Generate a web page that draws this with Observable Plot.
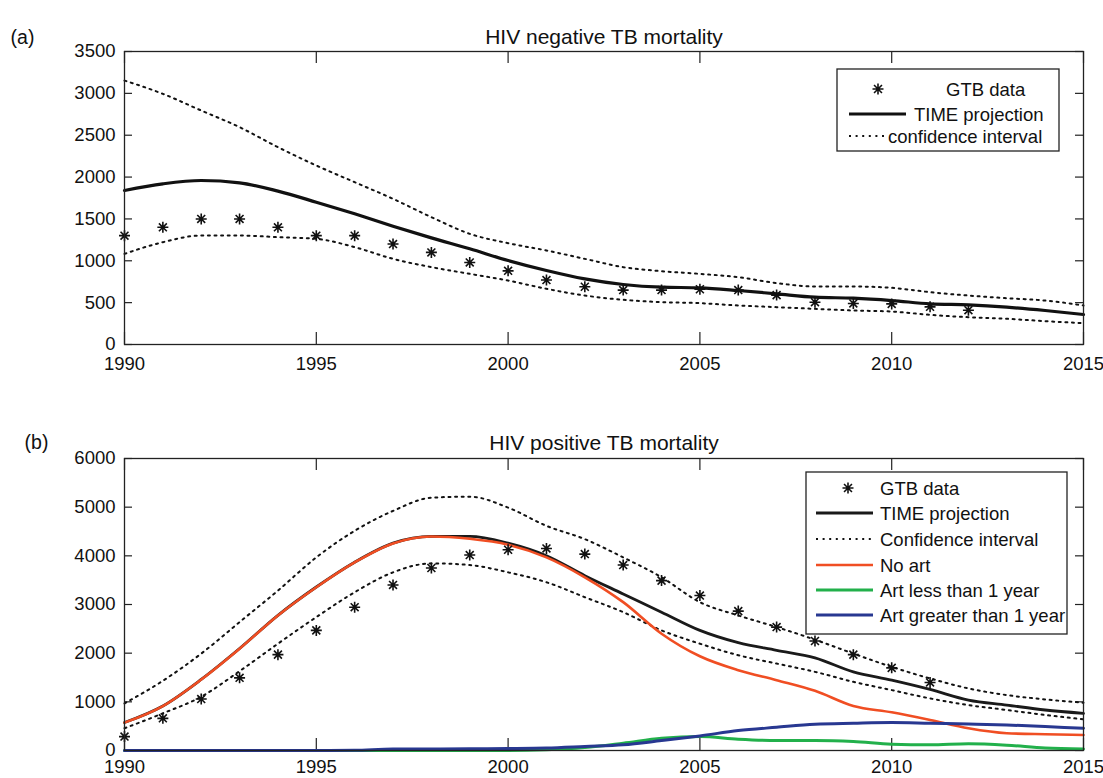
<!DOCTYPE html>
<html><head><meta charset="utf-8">
<script src="https://cdn.jsdelivr.net/npm/d3@7"></script>
<script src="https://cdn.jsdelivr.net/npm/@observablehq/plot@0.6"></script>
<style>
body{margin:0;background:#fff;font-family:"Liberation Sans",Arial,Helvetica,sans-serif;}
#wrap{position:relative;width:1103px;height:778px;}
#wrap > svg, #wrap > div{position:absolute;left:0;}
</style></head>
<body><div id="wrap"></div>
<script>
// ---------- data ----------
const years = d3.range(1990, 2016);
const xTicks = [1990, 1995, 2000, 2005, 2010, 2015];
const yTicksA = [0, 500, 1000, 1500, 2000, 2500, 3000, 3500];
const yTicksB = [0, 1000, 2000, 3000, 4000, 5000, 6000];

// (a) HIV negative
const negGTBYears = d3.range(1990, 2013);
const negGTB   = [1300,1400,1500,1500,1400,1300,1300,1200,1100,980,880,770,690,650,650,660,650,590,505,490,485,450,410];
const negTime  = [1840,1919,1959,1931,1832,1700,1561,1413,1274,1143,1003,884,784,717,685,677,645,605,565,553,525,486,473,446,406,358];
const negUpper = [3153,2994,2795,2596,2357,2138,1939,1740,1521,1322,1210,1123,1023,924,876,844,804,733,693,693,677,625,585,553,525,466];
const negLower = [1083,1222,1302,1302,1282,1262,1163,1023,924,844,764,665,585,534,506,494,466,446,426,406,394,354,326,307,279,255];

// (b) HIV positive
const posGTBYears = d3.range(1990, 2012);
const posGTB    = [286,661,1057,1493,1970,2468,2945,3402,3750,4016,4125,4152,4036,3811,3491,3184,2864,2536,2250,1970,1698,1398];
const posTime   = [575,915,1460,2095,2778,3360,3870,4262,4400,4400,4260,4002,3593,3218,2843,2468,2216,2059,1902,1616,1445,1254,1036,934,832,764];
const posUpper  = [968,1432,1991,2639,3286,3968,4514,4923,5195,5216,4991,4616,4343,3968,3559,3048,2775,2536,2277,1991,1718,1480,1275,1139,1050,982];
const posLower  = [457,764,1105,1630,2195,2741,3252,3661,3845,3811,3661,3457,3150,2843,2468,2195,1957,1786,1616,1411,1241,1070,934,832,730,641];
const posNoArt  = [573,914,1459,2093,2775,3355,3866,4255,4398,4350,4230,3968,3559,3048,2400,1936,1650,1445,1227,914,784,627,457,355,334,320];
const posArtLt1 = [0,0,0,0,0,0,0,0,0,0,0,15,61,150,250,286,232,205,205,184,130,116,140,110,50,30];
const posArtGt1 = [0,0,0,0,0,0,5,30,30,35,40,50,82,116,205,300,409,477,539,559,573,559,545,525,491,457];

// ---------- styles ----------
const FONT = '"Liberation Sans", Arial, Helvetica, sans-serif';
const INK = "#111";
const RED = "#f04e23", GREEN = "#22b04b", BLUE = "#283891";
const DOT = "2,4.6";
const TICKFS = 18.5, TITLEFS = 21;

const star8 = {
  draw(ctx, size) {
    const r = Math.sqrt(size / Math.PI), d = r * 0.72;
    ctx.moveTo(-r, 0); ctx.lineTo(r, 0);
    ctx.moveTo(0, -r); ctx.lineTo(0, r);
    ctx.moveTo(-d, -d); ctx.lineTo(d, d);
    ctx.moveTo(-d, d); ctx.lineTo(d, -d);
  }
};

const tblA = years.map((yr, i) => ({year: yr, time: negTime[i], up: negUpper[i], lo: negLower[i]}));
const gtbA = negGTBYears.map((yr, i) => ({year: yr, v: negGTB[i]}));
const tblB = years.map((yr, i) => ({year: yr, time: posTime[i], up: posUpper[i], lo: posLower[i],
  noart: posNoArt[i], lt1: posArtLt1[i], gt1: posArtGt1[i]}));
const gtbB = posGTBYears.map((yr, i) => ({year: yr, v: posGTB[i]}));

function frameMarks(H, W, yTicks, pad) {
  return [
    Plot.tickX(xTicks, {x: d => d, insetTop: H - 12, stroke: "#222", strokeWidth: 1.2}),
    Plot.tickX(xTicks, {x: d => d, insetBottom: H - 12, stroke: "#222", strokeWidth: 1.2}),
    Plot.tickY(yTicks, {y: d => d, insetRight: W - 8, stroke: "#222", strokeWidth: 1.2}),
    Plot.tickY(yTicks, {y: d => d, insetLeft: W - 8, stroke: "#222", strokeWidth: 1.2}),
    Plot.axisX({ticks: xTicks, tickSize: 0, tickPadding: pad, tickFormat: d => String(d), fontSize: TICKFS}),
    Plot.axisY({ticks: yTicks, tickSize: 0, tickPadding: 9, tickFormat: d => String(d), fontSize: TICKFS}),
  ];
}

const W = 959;
const wrap = document.getElementById("wrap");

// ---------- panel (a) ----------
const HA = 293;
const plotA = Plot.plot({
  width: 1103, height: 390,
  marginLeft: 124, marginRight: 20, marginTop: 51, marginBottom: 46,
  x: {domain: [1990, 2015], label: null},
  y: {domain: [0, 3500], label: null},
  style: {fontFamily: FONT, fontSize: "18px", color: INK, background: "transparent"},
  marks: [
    ...frameMarks(HA, W, yTicksA, 12),
    Plot.line(tblA, {x: "year", y: "up", stroke: INK, strokeWidth: 2, strokeDasharray: DOT, curve: "monotone-x"}),
    Plot.line(tblA, {x: "year", y: "lo", stroke: INK, strokeWidth: 2, strokeDasharray: DOT, curve: "monotone-x"}),
    Plot.line(tblA, {x: "year", y: "time", stroke: INK, strokeWidth: 3.2, curve: "monotone-x"}),
    Plot.dot(gtbA, {x: "year", y: "v", symbol: star8, r: 5.5, stroke: INK, strokeWidth: 1.6, fill: "none"}),
    Plot.frame({stroke: "#222", strokeWidth: 1.3}),
    Plot.text(["HIV negative TB mortality"], {text: d => d, frameAnchor: "top", dy: -22, fontSize: TITLEFS, fill: INK}),
    Plot.text(["(a)"], {text: d => d, frameAnchor: "top-left", dx: -102, dy: -21, textAnchor: "middle", fontSize: 19.5, fill: INK}),
  ]
});
plotA.style.top = "0px";
wrap.appendChild(plotA);

// ---------- panel (b) ----------
const HB = 292;
const plotB = Plot.plot({
  width: 1103, height: 388,
  marginLeft: 124, marginRight: 20, marginTop: 68, marginBottom: 28,
  x: {domain: [1990, 2015], label: null},
  y: {domain: [0, 6000], label: null},
  style: {fontFamily: FONT, fontSize: "18px", color: INK, background: "transparent"},
  marks: [
    ...frameMarks(HB, W, yTicksB, 9),
    Plot.line(tblB, {x: "year", y: "time", stroke: "#1a1a1a", strokeWidth: 2.8, curve: "monotone-x"}),
    Plot.line(tblB, {x: "year", y: "up", stroke: INK, strokeWidth: 2, strokeDasharray: DOT, curve: "monotone-x"}),
    Plot.line(tblB, {x: "year", y: "lo", stroke: INK, strokeWidth: 2, strokeDasharray: DOT, curve: "monotone-x"}),
    Plot.line(tblB, {x: "year", y: "noart", stroke: RED, strokeWidth: 2.6, curve: "monotone-x"}),
    Plot.line(tblB, {x: "year", y: "lt1", stroke: GREEN, strokeWidth: 3, curve: "monotone-x"}),
    Plot.line(tblB, {x: "year", y: "gt1", stroke: BLUE, strokeWidth: 3, curve: "monotone-x"}),
    Plot.dot(gtbB, {x: "year", y: "v", symbol: star8, r: 5.5, stroke: INK, strokeWidth: 1.6, fill: "none"}),
    Plot.frame({stroke: "#222", strokeWidth: 1.3}),
    Plot.text(["HIV positive TB mortality"], {text: d => d, frameAnchor: "top", dy: -23, fontSize: TITLEFS, fill: INK}),
    Plot.text(["(b)"], {text: d => d, frameAnchor: "top-left", dx: -88, dy: -23, textAnchor: "middle", fontSize: 19.5, fill: INK}),
  ]
});
plotB.style.top = "390px";
wrap.appendChild(plotB);

// ---------- legends ----------
function legend(box, rows) {
  const svg = d3.select(wrap).append("svg")
    .attr("width", box.w + 4).attr("height", box.h + 4)
    .style("position", "absolute").style("left", (box.x - 2) + "px").style("top", (box.y - 2) + "px")
    .style("font-family", FONT).style("font-size", "18.5px");
  const g = svg.append("g").attr("transform", "translate(2,2)");
  g.append("rect").attr("width", box.w).attr("height", box.h).attr("fill", "#fff")
    .attr("stroke", "#222").attr("stroke-width", 1.3);
  for (const r of rows) {
    if (r.kind === "star") {
      g.append("path").attr("d", d3.symbol(star8, Math.PI * 5.5 * 5.5)())
        .attr("transform", `translate(${r.sx},${r.y})`).attr("stroke", INK).attr("stroke-width", 1.6).attr("fill", "none");
    } else {
      g.append("line").attr("x1", r.x1).attr("x2", r.x2).attr("y1", r.y).attr("y2", r.y)
        .attr("stroke", r.color).attr("stroke-width", r.dash ? 2 : r.w)
        .attr("stroke-dasharray", r.dash ? DOT : null);
    }
    g.append("text").attr("x", r.tx).attr("y", r.y + 6.6).attr("fill", INK).text(r.label);
  }
}

legend({x: 837, y: 69, w: 222, h: 82}, [
  {kind: "star", sx: 41, y: 20, tx: 109, label: "GTB data"},
  {kind: "line", x1: 12, x2: 69, y: 45, color: INK, w: 3.2, tx: 77, label: "TIME projection"},
  {kind: "line", x1: 12, x2: 50, y: 67, color: INK, dash: true, tx: 51, label: "confidence interval"},
]);

legend({x: 806, y: 472, w: 261, h: 162}, [
  {kind: "star", sx: 42, y: 16, tx: 74, label: "GTB data"},
  {kind: "line", x1: 10, x2: 67, y: 41, color: "#1a1a1a", w: 2.8, tx: 74, label: "TIME projection"},
  {kind: "line", x1: 10, x2: 67, y: 67, color: INK, dash: true, tx: 74, label: "Confidence interval"},
  {kind: "line", x1: 10, x2: 67, y: 93, color: RED, w: 2.6, tx: 74, label: "No art"},
  {kind: "line", x1: 10, x2: 67, y: 118, color: GREEN, w: 3, tx: 74, label: "Art less than 1 year"},
  {kind: "line", x1: 10, x2: 67, y: 143, color: BLUE, w: 3, tx: 74, label: "Art greater than 1 year"},
]);
</script>
</body></html>
